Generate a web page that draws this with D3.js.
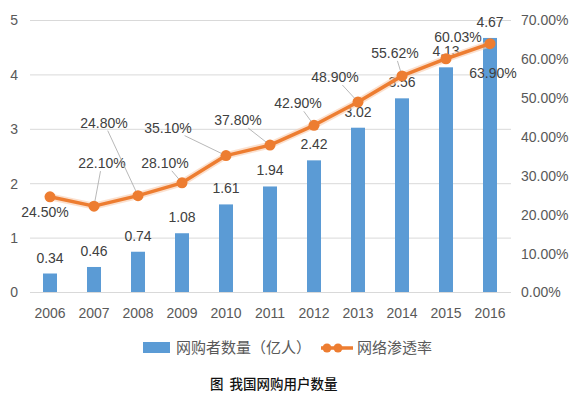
<!DOCTYPE html>
<html>
<head>
<meta charset="utf-8">
<script src="https://cdn.jsdelivr.net/npm/d3@7/dist/d3.min.js"></script>
<style>
  html, body { margin: 0; padding: 0; background: #fff; }
  svg { display: block; }
  text { font-family: "Liberation Sans", Arial, sans-serif; }
  .cjk { font-family: "Noto Sans CJK SC", sans-serif; }
</style>
</head>
<body>
<svg id="chart" width="578" height="398"></svg>
<script>
// ---- data ----
const years = ["2006","2007","2008","2009","2010","2011","2012","2013","2014","2015","2016"];
const buyers = [0.34, 0.46, 0.74, 1.08, 1.61, 1.94, 2.42, 3.02, 3.56, 4.13, 4.67];
const penetration = [0.245, 0.221, 0.248, 0.281, 0.351, 0.378, 0.429, 0.489, 0.5562, 0.6003, 0.639];
const penetrationLabels = ["24.50%","22.10%","24.80%","28.10%","35.10%","37.80%","42.90%","48.90%","55.62%","60.03%","63.90%"];
const leftTicks = [0, 1, 2, 3, 4, 5];
const rightTicks = [0, 0.1, 0.2, 0.3, 0.4, 0.5, 0.6, 0.7];
const seriesNames = ["网购者数量（亿人）", "网络渗透率"];
const caption = "图  我国网购用户数量";

// ---- layout (label placement relative to each point) ----
const labelOffsets = [[-5,15,false],[8,-43,true],[-34,-73,true],[-17,-20,true],[-58,-28,true],[-32,-25,true],[-16,-22,true],[-23,-25,true],[-7,-23,true],[12,-22,false],[3,29,false]];

const svg = d3.select("#chart");
const barColor = "#5B9BD5", lineColor = "#ED7D31";

const x = d3.scaleBand().domain(years).range([28, 512]).padding(0);
const yL = d3.scaleLinear().domain([0, 5]).range([292, 20]);
const yR = d3.scaleLinear().domain([0, 0.7]).range([292, 20]);
const cx = d => x(d) + x.bandwidth() / 2;
const barW = 14;

// gridlines
svg.append("g").selectAll("line").data(leftTicks).join("line")
  .attr("x1", 30).attr("x2", 511)
  .attr("y1", d => yL(d) + 0.5).attr("y2", d => yL(d) + 0.5)
  .attr("stroke", "#D9D9D9").attr("stroke-width", 1);

// left axis
const axL = d3.axisLeft(yL).tickValues(leftTicks).tickSize(0).tickPadding(0).tickFormat(d3.format("d"));
const gL = svg.append("g").attr("transform", "translate(18,0)").call(axL);
gL.select(".domain").remove();
gL.selectAll("text").attr("fill", "#595959").style("font-size", "14px").attr("dy", "0.35em");

// right axis
const axR = d3.axisRight(yR).tickValues(rightTicks).tickSize(0).tickPadding(0).tickFormat(d3.format(".2%"));
const gR = svg.append("g").attr("transform", "translate(521,0)").call(axR);
gR.select(".domain").remove();
gR.selectAll("text").attr("fill", "#595959").style("font-size", "14px").attr("dy", "0.35em");

// bottom axis
const axB = d3.axisBottom(x).tickSize(0).tickPadding(0);
const gB = svg.append("g").attr("transform", "translate(0,313)").call(axB);
gB.select(".domain").remove();
gB.selectAll("text").attr("fill", "#595959").style("font-size", "14px").attr("dy", "0.35em");

// bars
svg.append("g").selectAll("rect").data(buyers).join("rect")
  .attr("x", (d, i) => cx(years[i]) - barW / 2)
  .attr("y", d => yL(d))
  .attr("width", barW)
  .attr("height", d => yL(0) - yL(d))
  .attr("fill", barColor);

// bar labels
svg.append("g").selectAll("text").data(buyers).join("text")
  .attr("x", (d, i) => cx(years[i]))
  .attr("y", d => yL(d) - 11)
  .attr("text-anchor", "middle")
  .attr("fill", "#404040").style("font-size", "14px")
  .text(d => d.toFixed(2));

// line
const pts = penetration.map((v, i) => [cx(years[i]), yR(v)]);
const lineGen = d3.line();
svg.append("path").attr("d", lineGen(pts)).attr("fill", "none")
  .attr("stroke", "#F8CBAD").attr("stroke-opacity", 0.6).attr("stroke-width", 7).attr("stroke-linejoin", "round");
svg.append("path").attr("d", lineGen(pts)).attr("fill", "none")
  .attr("stroke", lineColor).attr("stroke-width", 3.5).attr("stroke-linejoin", "round");
svg.append("g").selectAll("circle").data(pts).join("circle")
  .attr("cx", d => d[0]).attr("cy", d => d[1]).attr("r", 5.5).attr("fill", lineColor);

// leader lines and labels
const gLab = svg.append("g");
pts.forEach((p, i) => {
  const [dx, dy, leader] = labelOffsets[i];
  const lx = p[0] + dx, ly = p[1] + dy;
  if (leader) {
    const vx = -dx, vy = -dy;
    const hw = 24, hh = 8;
    const t = Math.min(Math.abs(hw / (vx || 1e-6)), Math.abs(hh / (vy || 1e-6)));
    const sx = lx + vx * t, sy = ly + vy * t;
    const len = Math.hypot(vx, vy);
    const ex = p[0] - vx / len * 5, ey = p[1] - vy / len * 5;
    gLab.append("line").attr("x1", sx).attr("y1", sy).attr("x2", ex).attr("y2", ey)
      .attr("stroke", "#A6A6A6").attr("stroke-width", 0.8);
  }
  gLab.append("text").attr("x", lx).attr("y", ly).attr("dy", "0.35em")
    .attr("text-anchor", "middle").attr("fill", "#404040").style("font-size", "14px")
    .text(penetrationLabels[i]);
});

// legend
const lg = svg.append("g");
lg.append("rect").attr("x", 143).attr("y", 342).attr("width", 27).attr("height", 11).attr("fill", barColor);
lg.append("text").attr("class", "cjk").attr("x", 176).attr("y", 348).attr("dy", "0.35em")
  .attr("fill", "#595959").style("font-size", "15px").text(seriesNames[0]);
lg.append("line").attr("x1", 321).attr("x2", 353).attr("y1", 348).attr("y2", 348)
  .attr("stroke", lineColor).attr("stroke-width", 3.5);
lg.append("circle").attr("cx", 327).attr("cy", 348).attr("r", 4.5).attr("fill", lineColor);
lg.append("circle").attr("cx", 338).attr("cy", 348).attr("r", 4.5).attr("fill", lineColor);
lg.append("text").attr("class", "cjk").attr("x", 357).attr("y", 348).attr("dy", "0.35em")
  .attr("fill", "#595959").style("font-size", "15px").text(seriesNames[1]);

// caption
svg.append("text").attr("class", "cjk").attr("x", 210).attr("y", 384).attr("dy", "0.35em")
  .attr("fill", "#111").style("font-size", "13.5px").style("font-weight", "500")
  .attr("xml:space", "preserve").style("white-space", "pre")
  .text(caption);
</script>
</body>
</html>
